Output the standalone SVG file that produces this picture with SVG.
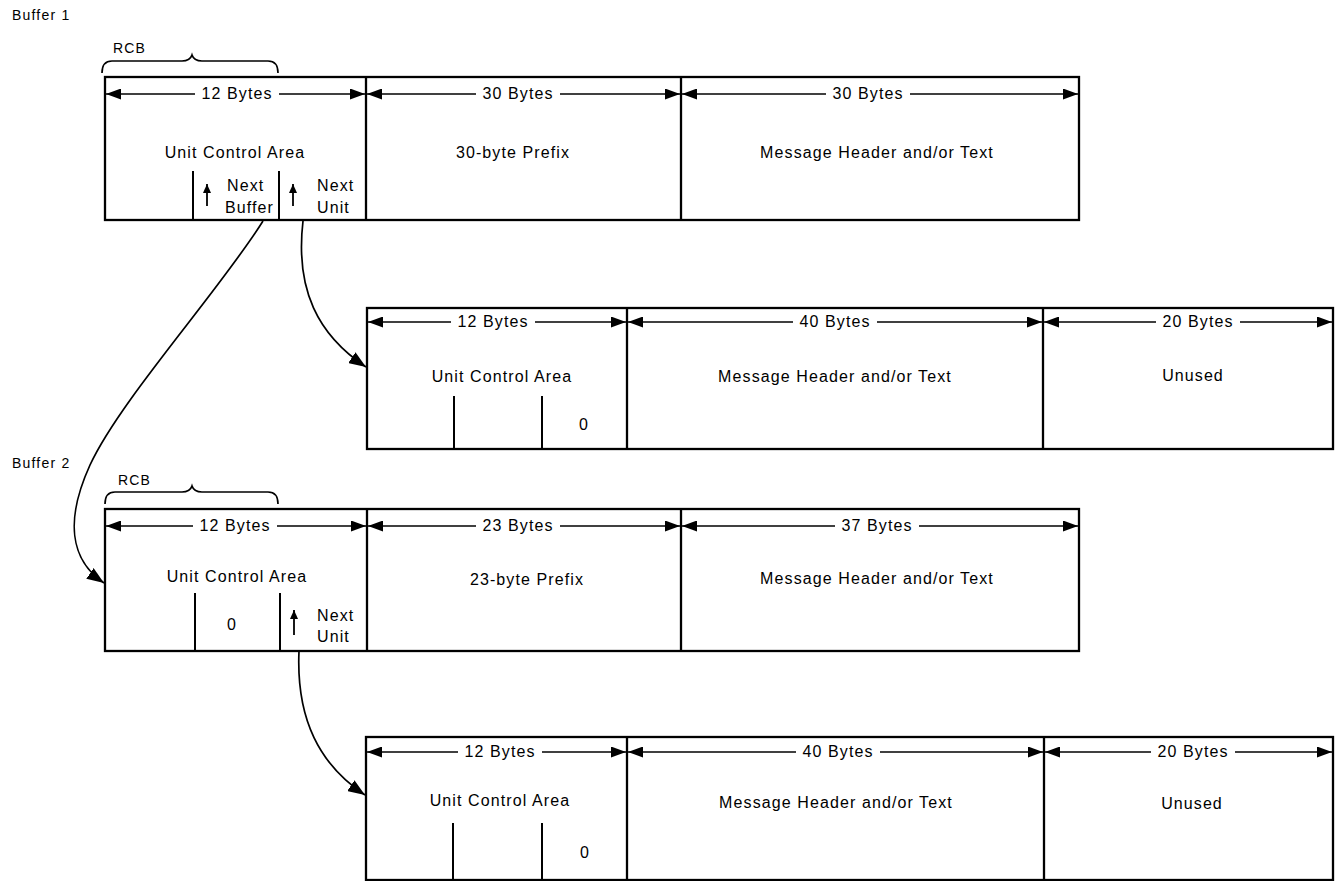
<svg xmlns="http://www.w3.org/2000/svg" width="1339" height="881" viewBox="0 0 1339 881">
<style>
  .box{fill:none;stroke:#000;stroke-width:2.3}
  .div{stroke:#000;stroke-width:2.3}
  .in{stroke:#000;stroke-width:2}
  .dim{stroke:#000;stroke-width:1.5;fill:none;marker-end:url(#ah)}
  .up{stroke:#000;stroke-width:1.8;fill:none;marker-end:url(#ahs)}
  .cv{stroke:#000;stroke-width:1.7;fill:none;marker-end:url(#ahc)}
  .br{stroke:#000;stroke-width:1.7;fill:none}
  text{font-family:"Liberation Sans",Arial,sans-serif;font-size:16px;letter-spacing:1.1px;fill:#000}
  .c{text-anchor:middle}
  .lbl{font-size:14px;letter-spacing:1.2px}
</style>
<defs>
  <marker id="ah" viewBox="0 0 15 11" refX="15" refY="5.5" markerWidth="15" markerHeight="11" markerUnits="userSpaceOnUse" orient="auto"><path d="M0,0 L15,5.5 L0,11 z" fill="#000"/></marker>
  <marker id="ahs" viewBox="0 0 9 8" refX="9" refY="4" markerWidth="9" markerHeight="8" markerUnits="userSpaceOnUse" orient="auto"><path d="M0,0 L9,4 L0,8 z" fill="#000"/></marker>
  <marker id="ahc" viewBox="0 0 17 13" refX="17" refY="6.5" markerWidth="17" markerHeight="13" markerUnits="userSpaceOnUse" orient="auto"><path d="M0,0 L17,6.5 L0,13 z" fill="#000"/></marker>
</defs>

<g id="buffer1-label"><text class="lbl" x="12" y="20">Buffer 1</text></g>

<g id="buffer1">
  <text class="lbl" x="113" y="53">RCB</text>
  <path class="br" d="M102,73 Q102,61 112,61 L182,61 Q190,61 192,55 Q194,61 202,61 L268,61 Q278,61 278,73"/>
  <rect class="box" x="105" y="77" width="974" height="143"/>
  <line class="div" x1="366" y1="77" x2="366" y2="220"/>
  <line class="div" x1="681" y1="77" x2="681" y2="220"/>
  <line class="in" x1="193" y1="171" x2="193" y2="220"/>
  <line class="in" x1="279" y1="171" x2="279" y2="220"/>
  <line class="dim" x1="195" y1="94" x2="106" y2="94"/><line class="dim" x1="279" y1="94" x2="365" y2="94"/>
  <text class="c" x="237" y="99">12 Bytes</text>
  <line class="dim" x1="476" y1="94" x2="367" y2="94"/><line class="dim" x1="560" y1="94" x2="680" y2="94"/>
  <text class="c" x="518" y="99">30 Bytes</text>
  <line class="dim" x1="826" y1="94" x2="682" y2="94"/><line class="dim" x1="910" y1="94" x2="1078" y2="94"/>
  <text class="c" x="868" y="99">30 Bytes</text>
  <text class="c" x="235" y="158">Unit Control Area</text>
  <text class="c" x="513" y="158">30-byte Prefix</text>
  <text class="c" x="877" y="158">Message Header and/or Text</text>
  <line class="up" x1="207" y1="206" x2="207" y2="184"/>
  <text x="227" y="191">Next</text>
  <text x="225" y="213">Buffer</text>
  <line class="up" x1="293" y1="206" x2="293" y2="184"/>
  <text x="317" y="191">Next</text>
  <text x="317" y="213">Unit</text>
</g>

<g id="unit1">
  <rect class="box" x="367" y="308" width="966" height="141"/>
  <line class="div" x1="627" y1="308" x2="627" y2="449"/>
  <line class="div" x1="1043" y1="308" x2="1043" y2="449"/>
  <line class="in" x1="454" y1="396" x2="454" y2="449"/>
  <line class="in" x1="542" y1="396" x2="542" y2="449"/>
  <line class="dim" x1="451" y1="322" x2="368" y2="322"/><line class="dim" x1="535" y1="322" x2="626" y2="322"/>
  <text class="c" x="493" y="327">12 Bytes</text>
  <line class="dim" x1="793" y1="322" x2="628" y2="322"/><line class="dim" x1="877" y1="322" x2="1042" y2="322"/>
  <text class="c" x="835" y="327">40 Bytes</text>
  <line class="dim" x1="1156" y1="322" x2="1044" y2="322"/><line class="dim" x1="1240" y1="322" x2="1332" y2="322"/>
  <text class="c" x="1198" y="327">20 Bytes</text>
  <text class="c" x="502" y="382">Unit Control Area</text>
  <text class="c" x="835" y="382">Message Header and/or Text</text>
  <text class="c" x="1193" y="381">Unused</text>
  <text class="c" x="584" y="430">0</text>
</g>

<g id="buffer2-label"><text class="lbl" x="12" y="468">Buffer 2</text></g>

<g id="buffer2">
  <text class="lbl" x="118" y="485">RCB</text>
  <path class="br" d="M105,504 Q105,492 115,492 L182,492 Q190,492 192,486 Q194,492 202,492 L268,492 Q278,492 278,504"/>
  <rect class="box" x="105" y="509" width="974" height="142"/>
  <line class="div" x1="367" y1="509" x2="367" y2="651"/>
  <line class="div" x1="681" y1="509" x2="681" y2="651"/>
  <line class="in" x1="195" y1="593" x2="195" y2="651"/>
  <line class="in" x1="280" y1="593" x2="280" y2="651"/>
  <line class="dim" x1="193" y1="526" x2="106" y2="526"/><line class="dim" x1="277" y1="526" x2="366" y2="526"/>
  <text class="c" x="235" y="531">12 Bytes</text>
  <line class="dim" x1="476" y1="526" x2="368" y2="526"/><line class="dim" x1="560" y1="526" x2="680" y2="526"/>
  <text class="c" x="518" y="531">23 Bytes</text>
  <line class="dim" x1="835" y1="526" x2="682" y2="526"/><line class="dim" x1="919" y1="526" x2="1078" y2="526"/>
  <text class="c" x="877" y="531">37 Bytes</text>
  <text class="c" x="237" y="582">Unit Control Area</text>
  <text class="c" x="527" y="585">23-byte Prefix</text>
  <text class="c" x="877" y="584">Message Header and/or Text</text>
  <text class="c" x="232" y="630">0</text>
  <line class="up" x1="294" y1="635" x2="294" y2="610"/>
  <text x="317" y="621">Next</text>
  <text x="317" y="642">Unit</text>
</g>

<g id="unit2">
  <rect class="box" x="366" y="737" width="967" height="143"/>
  <line class="div" x1="627" y1="737" x2="627" y2="880"/>
  <line class="div" x1="1044" y1="737" x2="1044" y2="880"/>
  <line class="in" x1="453" y1="823" x2="453" y2="880"/>
  <line class="in" x1="542" y1="823" x2="542" y2="880"/>
  <line class="dim" x1="458" y1="752" x2="367" y2="752"/><line class="dim" x1="542" y1="752" x2="626" y2="752"/>
  <text class="c" x="500" y="757">12 Bytes</text>
  <line class="dim" x1="796" y1="752" x2="628" y2="752"/><line class="dim" x1="880" y1="752" x2="1043" y2="752"/>
  <text class="c" x="838" y="757">40 Bytes</text>
  <line class="dim" x1="1151" y1="752" x2="1045" y2="752"/><line class="dim" x1="1235" y1="752" x2="1332" y2="752"/>
  <text class="c" x="1193" y="757">20 Bytes</text>
  <text class="c" x="500" y="806">Unit Control Area</text>
  <text class="c" x="836" y="808">Message Header and/or Text</text>
  <text class="c" x="1192" y="809">Unused</text>
  <text class="c" x="585" y="858">0</text>
</g>

<g id="connectors">
  <path class="cv" d="M263,221 C220,290 120,400 90,465 C65,520 70,560 104,583"/>
  <path class="cv" d="M303,221 C295,290 318,335 366,367"/>
  <path class="cv" d="M299,651 C296,720 320,765 365,795"/>
</g>
</svg>
